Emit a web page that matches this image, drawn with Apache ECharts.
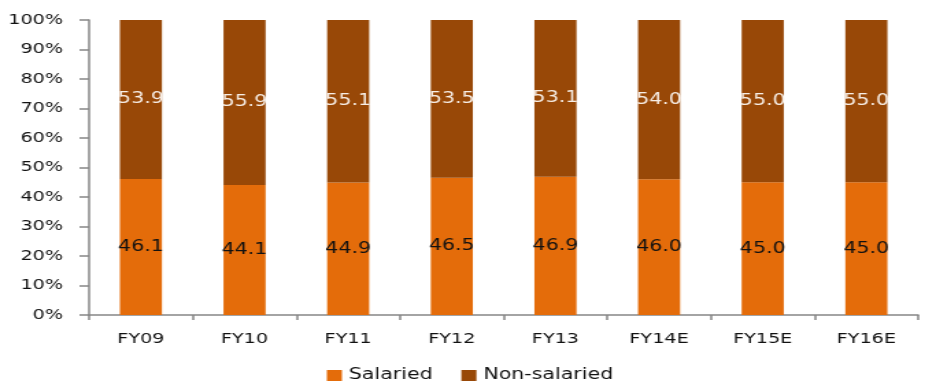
<!DOCTYPE html>
<html>
<head>
<meta charset="utf-8">
<script src="https://cdn.jsdelivr.net/npm/echarts@6/dist/echarts.min.js"></script>
<style>
  html, body { margin: 0; padding: 0; background: #fff; overflow: hidden; }
  #wrap { width: 925px; height: 386px; overflow: hidden; }
  /* chart is laid out narrower and widened horizontally, giving the wide lettering */
  #chart { width: 675px; height: 386px; transform: scaleX(1.3704); transform-origin: 0 0; }
</style>
</head>
<body>
<div id="wrap"><div id="chart"></div></div>
<script>
const categories = ['FY09', 'FY10', 'FY11', 'FY12', 'FY13', 'FY14E', 'FY15E', 'FY16E'];
const salaried = [46.1, 44.1, 44.9, 46.5, 46.9, 46.0, 45.0, 45.0];
const nonSalaried = [53.9, 55.9, 55.1, 53.5, 53.1, 54.0, 55.0, 55.0];
const yTicks = [0, 10, 20, 30, 40, 50, 60, 70, 80, 90, 100];

const FONT = 'DejaVu Sans';
const AXIS_GREY = '#878787';

const chart = echarts.init(document.getElementById('chart'), null, { renderer: 'canvas' });

chart.setOption({
  animation: false,
  textStyle: { fontFamily: FONT },
  grid: { left: 65, right: 5, top: 20, bottom: 71, containLabel: false },
  legend: {
    data: ['Salaried', 'Non-salaried'],
    bottom: 3,
    left: 238.5,
    padding: 0,
    itemWidth: 11,
    itemHeight: 11,
    itemGap: 21,
    icon: 'rect',
    textStyle: { fontFamily: FONT, fontSize: 15, color: '#111' }
  },
  xAxis: {
    type: 'category',
    data: categories,
    axisLine: { lineStyle: { color: AXIS_GREY, width: 1.5 } },
    axisTick: { show: true, alignWithLabel: false, length: 5, lineStyle: { color: AXIS_GREY, width: 1.5 } },
    axisLabel: { color: '#111', fontSize: 14, margin: 17, fontFamily: FONT }
  },
  yAxis: {
    type: 'value',
    min: yTicks[0],
    max: yTicks[yTicks.length - 1],
    interval: yTicks[1] - yTicks[0],
    splitLine: { show: false },
    axisLine: { show: true, lineStyle: { color: AXIS_GREY, width: 1.5 } },
    axisTick: { show: true, length: 7, lineStyle: { color: AXIS_GREY, width: 1.5 } },
    axisLabel: { color: '#111', fontSize: 14, margin: 19, fontFamily: FONT, formatter: '{value}%' }
  },
  series: [
    {
      name: 'Salaried',
      type: 'bar',
      stack: 'share',
      barWidth: '40.6%',
      data: salaried,
      itemStyle: { color: '#E46C0A' },
      label: {
        show: true,
        position: 'inside',
        color: '#111',
        fontSize: 15,
        fontFamily: FONT,
        formatter: p => p.value.toFixed(1)
      }
    },
    {
      name: 'Non-salaried',
      type: 'bar',
      stack: 'share',
      barWidth: '40.6%',
      data: nonSalaried,
      itemStyle: { color: '#984807' },
      label: {
        show: true,
        position: 'inside',
        color: '#F7EEE6',
        fontSize: 15,
        fontFamily: FONT,
        formatter: p => p.value.toFixed(1)
      }
    }
  ]
});
</script>
</body>
</html>
